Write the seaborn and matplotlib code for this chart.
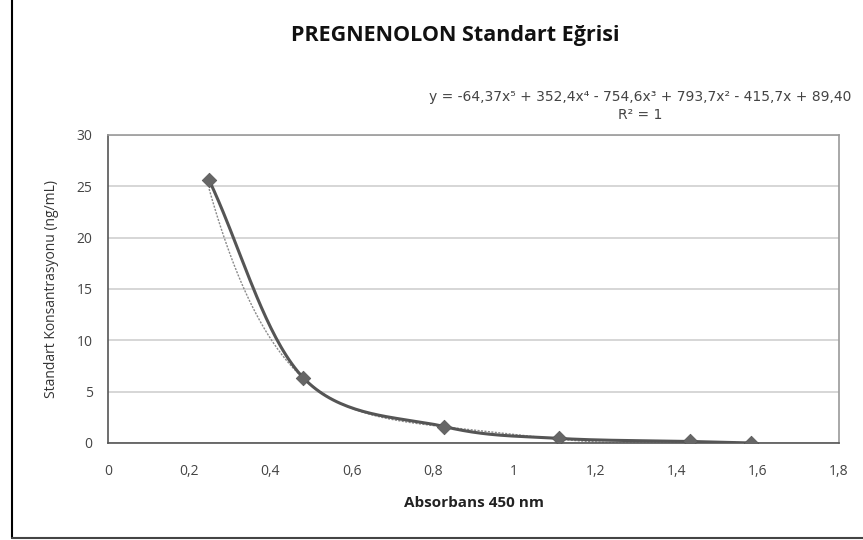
import numpy as np
import matplotlib
matplotlib.use("Agg")
import matplotlib.pyplot as plt
import seaborn as sns

# Data
absorbance = [0.249, 0.481, 0.828, 1.110, 1.433, 1.584]
concentration = [25.6, 6.35, 1.6, 0.45, 0.15, 0.0]
# Polynomial trendline coefficients (highest power first), from the equation label
trend_coeffs = [-64.37, 352.4, -754.6, 793.7, -415.7, 89.40]
x_ticks = [0, 0.2, 0.4, 0.6, 0.8, 1.0, 1.2, 1.4, 1.6, 1.8]
x_tick_labels = ["0", "0,2", "0,4", "0,6", "0,8", "1", "1,2", "1,4", "1,6", "1,8"]
y_ticks = [0, 5, 10, 15, 20, 25, 30]

sns.set_theme(style="white")
plt.rcParams['font.family'] = ['Open Sans', 'DejaVu Sans']

fig = plt.figure(figsize=(8.63, 5.4), dpi=100)
ax = fig.add_axes([108/863, 1-443/540, 731/863, 308/540])


def catmull_rom(xs, ys, n=40):
    xs = np.asarray(xs, float); ys = np.asarray(ys, float)
    P = np.column_stack([xs, ys])
    P = np.vstack([2*P[0]-P[1], P, 2*P[-1]-P[-2]])
    out = []
    for i in range(1, len(P)-2):
        p0, p1, p2, p3 = P[i-1], P[i], P[i+1], P[i+2]
        t = np.linspace(0, 1, n)[:, None]
        seg = 0.5*((2*p1) + (-p0+p2)*t + (2*p0-5*p1+4*p2-p3)*t**2 + (-p0+3*p1-3*p2+p3)*t**3)
        out.append(seg)
    out = np.vstack(out)
    return out[:, 0], out[:, 1]

# polynomial trendline (thin dotted)
xt = np.linspace(absorbance[0], absorbance[-1], 300)
yt = np.polyval(trend_coeffs, xt)
mask = yt >= 0
sns.lineplot(x=xt[mask], y=yt[mask], ax=ax, color="#8a8a8a", lw=1.0, linestyle=(0, (1.5, 1)), sort=False)

# smoothed data line
sx, sy = catmull_rom(absorbance, concentration)
sns.lineplot(x=sx, y=sy, ax=ax, color="#555555", lw=2.2, sort=False)
sns.scatterplot(x=absorbance, y=concentration, ax=ax, marker="D", s=55, color="#666666",
                edgecolor="#555555", linewidth=0.5, zorder=5)

ax.set_xlim(0, 1.8)
ax.set_ylim(0, 30)
ax.set_xticks(x_ticks)
ax.set_xticklabels(x_tick_labels)
ax.set_yticks(y_ticks)
ax.set_yticklabels([str(v) for v in y_ticks])
ax.yaxis.grid(True, color="#cfcfcf", lw=1.2)
ax.xaxis.grid(False)
ax.set_axisbelow(True)
for s in ax.spines.values():
    s.set_color("#9a9a9a")
    s.set_linewidth(1.2)
ax.spines['left'].set_color("#555555")
ax.spines['bottom'].set_color("#555555")
ax.tick_params(axis='both', colors="#555555", labelcolor="#444444", labelsize=10)
ax.tick_params(axis='y', direction='inout', length=8, width=1, pad=7)
ax.tick_params(axis='x', direction='out', length=4, width=1, pad=11)

ax.set_xlabel("Absorbans 450 nm", fontsize=11, fontweight='bold', color="#222222", labelpad=12)
ax.set_ylabel("Standart Konsantrasyonu (ng/mL)", fontsize=10, color="#333333", labelpad=13)

fig.text(455/863, 1-35/540, "PREGNENOLON Standart Eğrisi", ha='center', va='center',
         fontsize=15.5, fontweight='bold', color="#111111")
fig.text(640/863, 1-97/540, "y = -64,37x⁵ + 352,4x⁴ - 754,6x³ + 793,7x² - 415,7x + 89,40",
         ha='center', va='center', fontsize=10, color="#444444", family=['DejaVu Sans'])
fig.text(640/863, 1-115/540, "R² = 1", ha='center', va='center', fontsize=10, color="#444444",
         family=['DejaVu Sans'])

# chart border lines
fig.add_artist(plt.Line2D([12/863, 12/863], [2/540, 1.0], color="black", lw=1.5,
                          transform=fig.transFigure))
fig.add_artist(plt.Line2D([12/863, 1.0], [2/540, 2/540], color="#444444", lw=1.5,
                          transform=fig.transFigure))

fig.savefig("out.png", dpi=100, facecolor="white")
